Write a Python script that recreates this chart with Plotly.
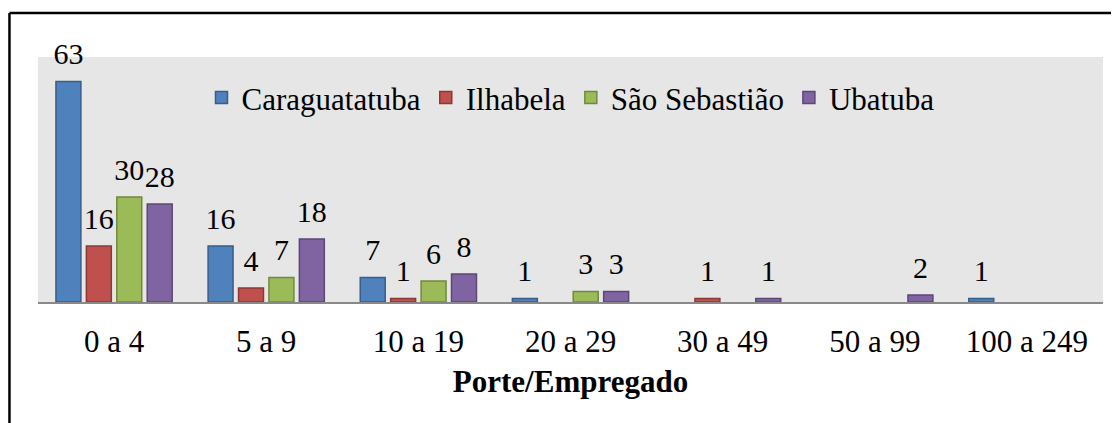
import plotly.graph_objects as go

categorias = ["0 a 4", "5 a 9", "10 a 19", "20 a 29", "30 a 49", "50 a 99", "100 a 249"]

caraguatatuba = [63, 16, 7, 1, 0, 0, 1]
ilhabela = [16, 4, 1, 0, 1, 0, 0]
sao_sebastiao = [30, 7, 6, 3, 0, 0, 0]
ubatuba = [28, 18, 8, 3, 1, 2, 0]

series = [
    ("Caraguatatuba", caraguatatuba, "#4F81BD", "#385D8A"),
    ("Ilhabela", ilhabela, "#C0504D", "#8C3836"),
    ("São Sebastião", sao_sebastiao, "#9BBB59", "#71893F"),
    ("Ubatuba", ubatuba, "#8064A2", "#5C4776"),
]

FONT = "Liberation Serif"

# page body has an 8px margin, so the figure is shrunk by 8px on left/top
fig = go.Figure()
for name, vals, fill, edge in series:
    fig.add_trace(go.Bar(
        x=categorias, y=vals, name=name,
        marker=dict(color=fill,
                    line=dict(color=edge, width=[1.5 if v else 0 for v in vals])),
    ))

# data labels: grouped scatter text so they sit a little higher above the bars
for name, vals, fill, edge in series:
    fig.add_trace(go.Scatter(
        x=categorias, y=vals, name=name, showlegend=False,
        mode="markers+text",
        marker=dict(size=14, opacity=0),
        text=[str(v) if v else "" for v in vals],
        textposition="top center",
        textfont=dict(family=FONT, size=30, color="#000000"),
        cliponaxis=False, hoverinfo="skip",
    ))

fig.update_layout(
    width=1111, height=415,
    margin=dict(l=30, r=16, t=49, b=121),
    paper_bgcolor="#ffffff",
    plot_bgcolor="#e6e6e6",
    barmode="group",
    bargap=0.2,
    bargroupgap=0.18,
    scattermode="group",
    scattergap=0.2,
    font=dict(family=FONT, size=31, color="#000000"),
    legend=dict(
        orientation="h",
        x=0.5, xanchor="center",
        y=0.833, yanchor="middle",
        bgcolor="rgba(0,0,0,0)",
        font=dict(family=FONT, size=31, color="#000000"),
        itemwidth=30,
        tracegroupgap=0,
    ),
    xaxis=dict(
        showline=True, linecolor="#898989", linewidth=2,
        showgrid=False, ticks="outside", ticklen=11, tickcolor="rgba(0,0,0,0)",
        tickfont=dict(family=FONT, size=31, color="#000000"),
        title=dict(text="<b>Porte/Empregado</b>", standoff=12,
                   font=dict(family=FONT, size=31, color="#000000")),
    ),
    yaxis=dict(
        range=[0, 70], showgrid=False, showticklabels=False, zeroline=False,
        ticks="",
    ),
    shapes=[
        dict(type="line", xref="paper", yref="paper",
             x0=-0.0268, x1=1.1, y0=1.18, y1=1.18,
             line=dict(color="#000000", width=2.5)),
        dict(type="line", xref="paper", yref="paper",
             x0=-0.0268, x1=-0.0268, y0=1.18, y1=-0.6,
             line=dict(color="#000000", width=2.5)),
    ],
)

fig.write_html("out.html")
